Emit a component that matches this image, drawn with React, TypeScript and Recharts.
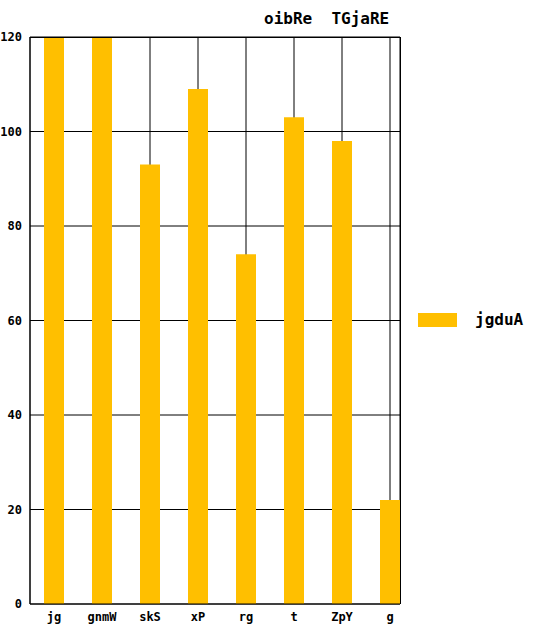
import { BarChart, Bar, XAxis, YAxis, CartesianGrid } from 'recharts';

const categories = ['jg', 'gnmW', 'skS', 'xP', 'rg', 't', 'ZpY', 'g'];
const values = [125, 125, 93, 109, 74, 103, 98, 22];
const yTicks = [0, 20, 40, 60, 80, 100, 120];

const data = categories.map((name, i) => ({ name, jgduA: values[i] }));
const font = '"DejaVu Sans Mono", monospace';

export default function App() {
  return (
    <div style={{ position: 'absolute', left: 0, top: 0, width: 553, height: 632, background: '#fff' }}>
      <div style={{ position: 'absolute', left: 264, top: 9, fontFamily: font, fontWeight: 'bold', fontSize: 16, whiteSpace: 'pre' }}>
        oibRe  TGjaRE
      </div>
      <BarChart width={553} height={632} data={data} margin={{ top: 37, right: 153, bottom: 0, left: 0 }}>
        <CartesianGrid stroke="#000" strokeWidth={1} />
        <XAxis
          dataKey="name"
          scale="point"
          padding={{ left: 24, right: 10 }}
          height={28}
          stroke="#000"
          tickLine={false}
          tick={{ fill: '#000', fontFamily: font, fontWeight: 'bold', fontSize: 12 }}
        />
        <YAxis
          width={30}
          domain={[0, 120]}
          ticks={yTicks}
          allowDataOverflow
          stroke="#000"
          tickLine={false}
          tick={{ fill: '#000', fontFamily: font, fontWeight: 'bold', fontSize: 12 }}
        />
        <Bar dataKey="jgduA" fill="#FFBF00" barSize={20} isAnimationActive={false} />
      </BarChart>
      <div style={{ position: 'absolute', left: 400, top: 37, width: 1, height: 567, background: '#000' }} />
      <div style={{ position: 'absolute', left: 30, top: 37, width: 370, height: 1, background: '#000' }} />
      <div style={{ position: 'absolute', left: 418, top: 310, display: 'flex', alignItems: 'center', fontFamily: font, fontWeight: 'bold', fontSize: 16 }}>
        <div style={{ width: 39, height: 14, background: '#FFBF00', marginRight: 18 }} />
        <span>jgduA</span>
      </div>
    </div>
  );
}
